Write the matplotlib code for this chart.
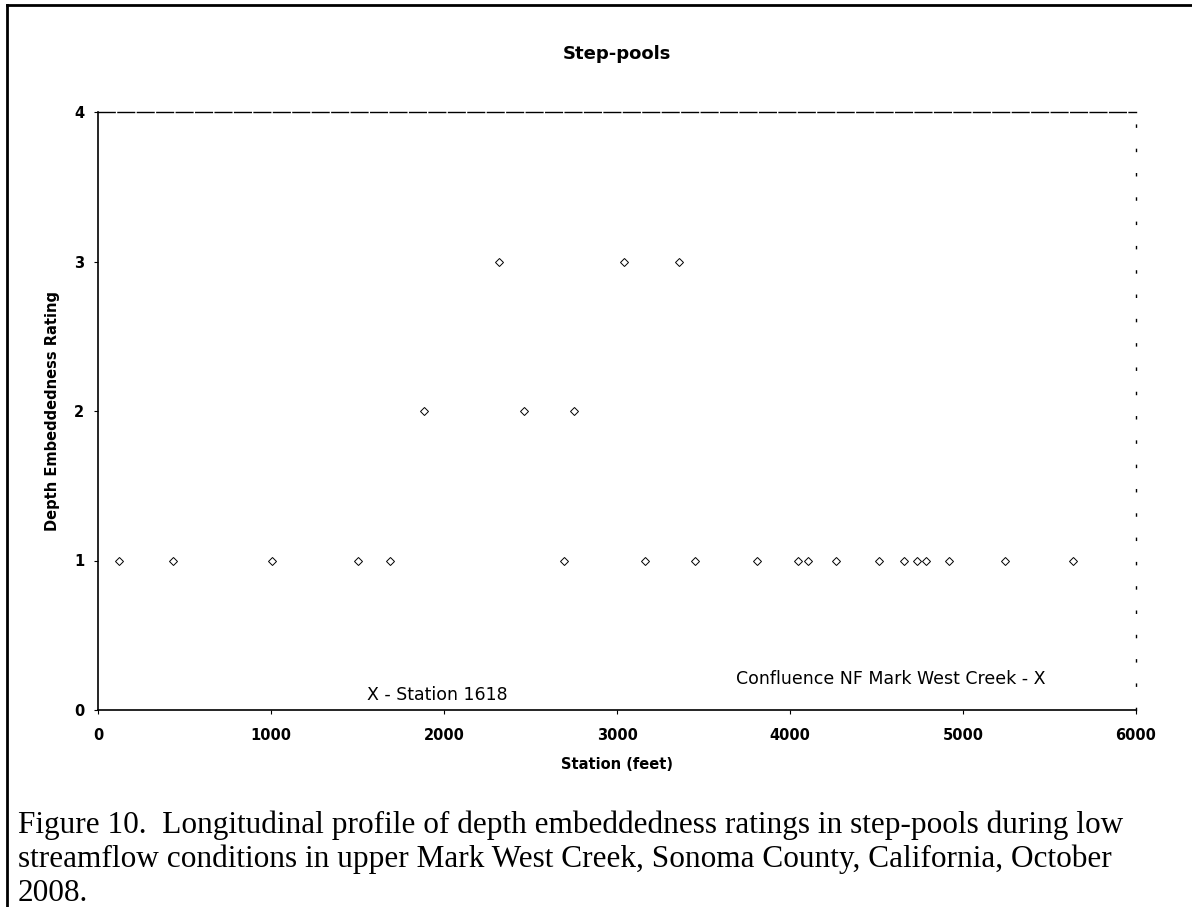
import matplotlib.pyplot as plt
from matplotlib.lines import Line2D

# step-pool stations (feet) and depth embeddedness ratings
station = [120, 435, 1005, 1500, 1690, 2695,
           1887, 2320, 2465, 2749, 3038, 3357,
           3162, 3451, 3811, 4045, 4105, 4267, 4512, 4658, 4735, 4787, 4919, 5241, 5635]
rating = [1, 1, 1, 1, 1, 1,
          2, 3, 2, 2, 3, 3,
          1, 1, 1, 1, 1, 1, 1, 1, 1, 1, 1, 1, 1]

x_ticks = [0, 1000, 2000, 3000, 4000, 5000, 6000]
y_ticks = [0, 1, 2, 3, 4]

caption = ("Figure 10.  Longitudinal profile of depth embeddedness ratings in step-pools during low\n"
           "streamflow conditions in upper Mark West Creek, Sonoma County, California, October\n"
           "2008.")

fig = plt.figure(figsize=(11.92, 9.07), dpi=100)
ax = fig.add_axes([98 / 1192, 1 - 710 / 907, (1136 - 98) / 1192, (710 - 112) / 907])

ax.plot(station, rating, linestyle="none", marker="D", markersize=4.5,
        markerfacecolor="none", markeredgecolor="black", markeredgewidth=0.7)

ax.set_xlim(0, 6000)
ax.set_ylim(0, 4)
ax.set_xticks(x_ticks)
ax.set_yticks(y_ticks)
ax.tick_params(axis="x", direction="out", length=3, width=0.8, pad=10, labelsize=10.5)
ax.tick_params(axis="y", direction="out", length=3, width=0.8, pad=7, labelsize=10.5)
for lab in ax.get_xticklabels() + ax.get_yticklabels():
    lab.set_fontweight("bold")

for side in ["left", "bottom"]:
    ax.spines[side].set_linewidth(1.2)
ax.spines["top"].set_linewidth(1.0)
ax.spines["top"].set_linestyle((0, (12, 2)))
ax.spines["right"].set_linewidth(1.0)
ax.spines["right"].set_linestyle((0, (1.5, 16)))

ax.set_title("Step-pools", fontsize=13, fontweight="bold", pad=38)
ax.set_xlabel("Station (feet)", fontsize=10.5, fontweight="bold", labelpad=10)
ax.set_ylabel("Depth Embeddedness Rating", fontsize=10.5, fontweight="bold", labelpad=10)

ax.text(1557, 0.1, "X - Station 1618", fontsize=12.5, va="center", ha="left")
ax.text(3686, 0.207, "Confluence NF Mark West Creek - X", fontsize=12.5, va="center", ha="left")

fig.text(18 / 1192, 1 - 810 / 907, caption, family="Liberation Serif", fontsize=22.5,
         va="top", ha="left", linespacing=1.22)

# page frame around the figure
fig.add_artist(Line2D([7 / 1192, 1.0], [1 - 5 / 907, 1 - 5 / 907], color="black", linewidth=2,
                      transform=fig.transFigure))
fig.add_artist(Line2D([7 / 1192, 7 / 1192], [0.0, 1 - 5 / 907], color="black", linewidth=2,
                      transform=fig.transFigure))

fig.savefig("out.png", dpi=100)
